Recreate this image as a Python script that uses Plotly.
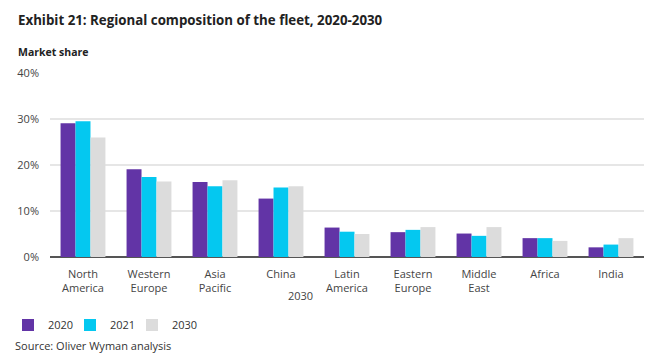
import plotly.graph_objects as go

categories = ["North<br>America", "Western<br>Europe", "Asia<br>Pacific", "China", "Latin<br>America",
              "Eastern<br>Europe", "Middle<br>East", "Africa", "India"]
share_2020 = [29.1, 19.1, 16.3, 12.7, 6.4, 5.4, 5.1, 4.1, 2.1]
share_2021 = [29.5, 17.4, 15.4, 15.1, 5.5, 5.9, 4.6, 4.1, 2.7]
share_2030 = [26.0, 16.4, 16.7, 15.4, 5.0, 6.5, 6.5, 3.5, 4.1]
series_names = ["2020", "2021", "2030"]
colors = ["#6234A6", "#04C8F0", "#DCDCDC"]
y_ticks = [0, 10, 20, 30, 40]
y_tick_labels = ["0%", "10%", "20%", "30%", "40%"]

FONT = "Open Sans"
OFF = 8  # page body offset
W, H = 660, 361
L, R, T, B = 50 - OFF, W - (644 - OFF), 73 - OFF, H - (257 - OFF)
PW, PH = W - L - R, H - T - B


def px(x):
    return (x - OFF - L) / PW


def py(y):
    return (H - B - (y - OFF)) / PH


fig = go.Figure()
for i, (name, vals, col) in enumerate(zip(series_names, [share_2020, share_2021, share_2030], colors)):
    fig.add_trace(go.Bar(x=categories, y=vals, name=name, marker=dict(color=col, line=dict(width=0)),
                         legendwidth=17 if i < len(series_names) - 1 else 40))

fig.update_layout(
    width=W, height=H,
    margin=dict(l=L, r=R, t=T, b=B, autoexpand=False),
    paper_bgcolor="white", plot_bgcolor="white",
    barmode="group", bargap=0.32, bargroupgap=0,
    font=dict(family=FONT, size=11, color="#333333"),
    showlegend=True,
    legend=dict(orientation="h", x=-3 / W, xref="container", y=1 - (325 - OFF) / H, yref="container",
                yanchor="middle", xanchor="left", itemwidth=30,
                font=dict(size=11, color="#333333"), itemclick=False, traceorder="normal"),
    xaxis=dict(showgrid=False, showline=False, ticks="", tickfont=dict(size=11, color="#444444"),
               ticklabelstandoff=9, fixedrange=True),
    yaxis=dict(range=[0, 40], tickvals=y_ticks, ticktext=y_tick_labels, showgrid=True,
               gridcolor="#E6E6E6", gridwidth=1.5, zeroline=True, zerolinecolor="#555555",
               zerolinewidth=1.5, ticklabelstandoff=10, tickfont=dict(size=11, color="#444444"),
               showline=False, fixedrange=True),
)


def note(text, x, y, anchor="left", size=11, color="#333333"):
    fig.add_annotation(text=text, xref="paper", yref="paper", x=px(x), y=py(y),
                       xanchor=anchor, yanchor="middle", showarrow=False,
                       font=dict(family=FONT, size=size, color=color))


note("<b>Exhibit 21: Regional composition of the fleet, 2020-2030</b>", 16, 20, size=13.3, color="#222222")
note("<b>Market share</b>", 16, 52, size=10.5, color="#222222")
note("2030", 300, 295, anchor="center", color="#444444")
note("Source: Oliver Wyman analysis", 13, 345)

fig.write_html("out.html")
